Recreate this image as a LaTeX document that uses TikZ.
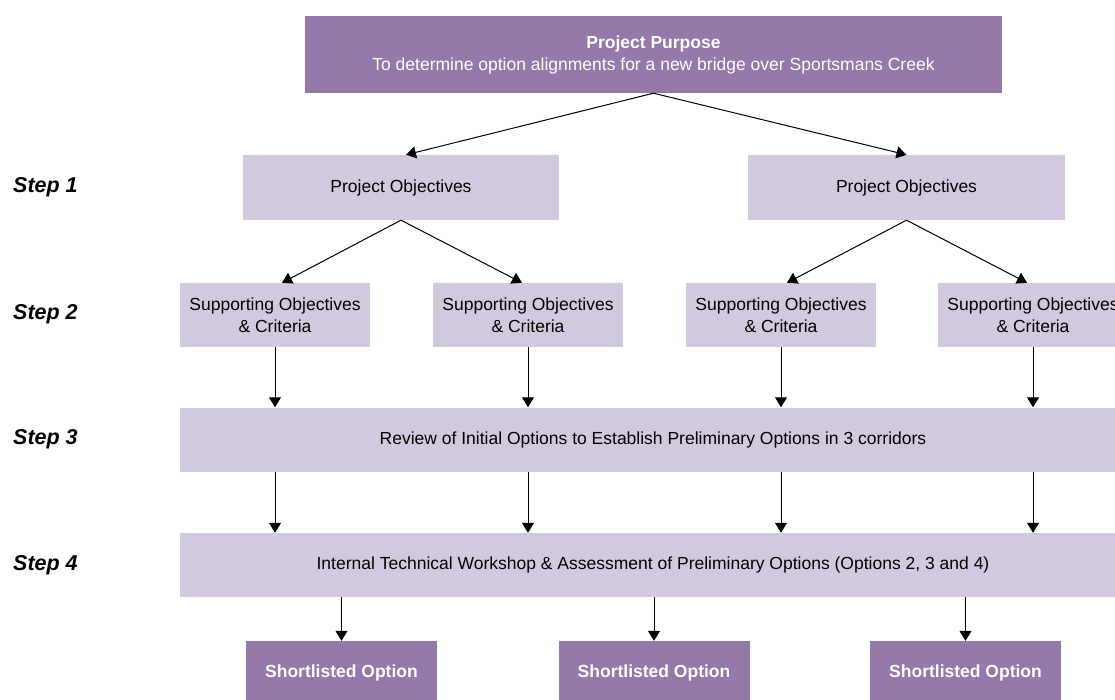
\documentclass[tikz,border=0pt]{standalone}
\usepackage{fontspec}
\setmainfont{Liberation Sans}
\usetikzlibrary{arrows.meta}
\definecolor{darkpurple}{HTML}{9479AA}
\definecolor{lightpurple}{HTML}{D2C9DF}
\tikzset{
  darkbox/.style={rectangle, fill=darkpurple, text=white, inner sep=0pt, align=center,
    font=\fontsize{17.5}{22}\selectfont},
  lightbox/.style={rectangle, fill=lightpurple, text=black, inner sep=0pt, align=center,
    font=\fontsize{17.5}{22}\selectfont},
  steplabel/.style={anchor=west, inner sep=0pt, font=\fontsize{21.5}{24}\selectfont\bfseries\itshape},
  arr/.style={line width=1pt, -{Triangle[length=10pt,width=12pt]}}
}
\begin{document}
\begin{tikzpicture}[x=1pt,y=-1pt]
\useasboundingbox (0,0) rectangle (1115,700);
\clip (0,0) rectangle (1115,700);
\fill[white] (0,0) rectangle (1115,700);

% top
\node[darkbox, minimum width=697pt, minimum height=77pt] (top) at (653.5,54.5)
  {\textbf{Project Purpose}\\To determine option alignments for a new bridge over Sportsmans Creek};

% step 1
\node[lightbox, minimum width=316pt, minimum height=65pt] (po1) at (401,187.5) {Project Objectives};
\node[lightbox, minimum width=317pt, minimum height=65pt] (po2) at (906.5,187.5) {Project Objectives};

% step 2
\node[lightbox, minimum width=190pt, minimum height=64pt] (so1) at (275,315) {Supporting Objectives\\\& Criteria};
\node[lightbox, minimum width=190pt, minimum height=64pt] (so2) at (528,315) {Supporting Objectives\\\& Criteria};
\node[lightbox, minimum width=190pt, minimum height=64pt] (so3) at (781,315) {Supporting Objectives\\\& Criteria};
\node[lightbox, minimum width=190pt, minimum height=64pt] (so4) at (1033,315) {Supporting Objectives\\\& Criteria};

% step 3 and 4
\node[lightbox, minimum width=946pt, minimum height=64pt] (s3) at (653,439.5)
  {Review of Initial Options to Establish Preliminary Options in 3 corridors};
\node[lightbox, minimum width=946pt, minimum height=64pt] (s4) at (653,565)
  {Internal Technical Workshop \& Assessment of Preliminary Options (Options 2, 3 and 4)};

% shortlisted
\node[darkbox, minimum width=191pt, minimum height=64pt] (sl1) at (341.5,673) {\textbf{Shortlisted Option}};
\node[darkbox, minimum width=191pt, minimum height=64pt] (sl2) at (654,673) {\textbf{Shortlisted Option}};
\node[darkbox, minimum width=191pt, minimum height=64pt] (sl3) at (965.5,673) {\textbf{Shortlisted Option}};

% step labels
\node[steplabel] (l1) at (13,187.5) {Step 1};
\node[steplabel] (l2) at (13,314) {Step 2};
\node[steplabel] (l3) at (13,439.5) {Step 3};
\node[steplabel] (l4) at (13,565) {Step 4};

% connectors
\draw[arr] (top.south) -- ([xshift=5pt]po1.north);
\draw[arr] (top.south) -- (po2.north);
\draw[arr] (po1.south) -- ([xshift=7pt]so1.north);
\draw[arr] (po1.south) -- ([xshift=-6pt]so2.north);
\draw[arr] (po2.south) -- ([xshift=6pt]so3.north);
\draw[arr] (po2.south) -- ([xshift=-6pt]so4.north);

\foreach \n in {so1,so2,so3,so4}{
  \draw[arr] (\n.south) -- (\n.south |- s3.north);
  \draw[arr] (\n.south |- s3.south) -- (\n.south |- s4.north);
}
\foreach \n in {sl1,sl2,sl3}{
  \draw[arr] (\n.north |- s4.south) -- (\n.north);
}
\end{tikzpicture}
\end{document}
